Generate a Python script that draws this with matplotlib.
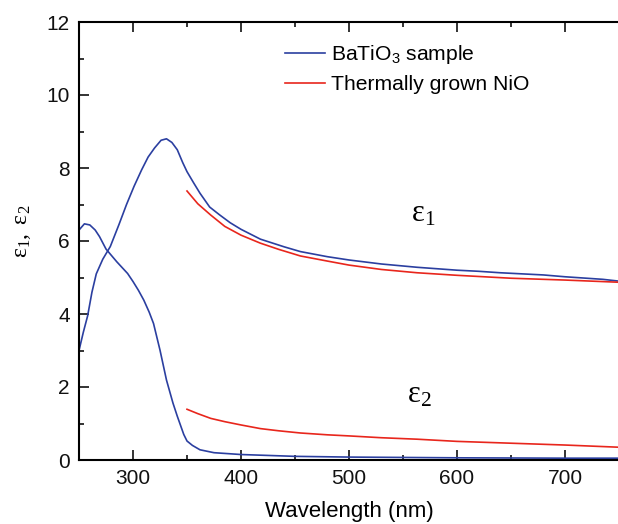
import matplotlib
matplotlib.use("Agg")
import matplotlib.pyplot as plt
from matplotlib.ticker import MultipleLocator

plt.rcParams["font.family"] = ["Liberation Sans", "DejaVu Sans"]
plt.rcParams["mathtext.fontset"] = "custom"
plt.rcParams["mathtext.rm"] = "Liberation Serif"
plt.rcParams["mathtext.it"] = "Liberation Serif:italic"
plt.rcParams["mathtext.sf"] = "Liberation Sans"

# BaTiO3 sample: real part (eps1)
wl_bto_eps1 = [250, 254, 258, 262, 266, 272, 279, 287, 294, 301, 308, 314, 320, 326,
               331, 336, 341, 346, 350, 356, 362, 371, 380, 390, 400, 418, 440, 455,
               480, 500, 530, 563, 600, 620, 640, 660, 680, 700, 720, 735, 750]
bto_eps1 = [3.0, 3.5, 3.95, 4.6, 5.1, 5.5, 5.85, 6.45, 7.0, 7.5, 7.95, 8.3, 8.55, 8.76,
            8.8, 8.7, 8.5, 8.15, 7.9, 7.6, 7.31, 6.93, 6.72, 6.5, 6.32, 6.05, 5.84, 5.71,
            5.57, 5.48, 5.37, 5.28, 5.20, 5.17, 5.13, 5.10, 5.07, 5.02, 4.98, 4.95, 4.90]

# BaTiO3 sample: imaginary part (eps2)
wl_bto_eps2 = [250, 255, 260, 265, 269, 275, 285, 295, 300, 305, 310, 315, 319, 325,
               331, 337, 341, 344, 347, 350, 355, 362, 375, 400, 450, 500, 600, 700, 750]
bto_eps2 = [6.3, 6.47, 6.44, 6.3, 6.12, 5.78, 5.43, 5.11, 4.89, 4.65, 4.38, 4.05, 3.74, 3.01,
            2.19, 1.56, 1.2, 0.95, 0.7, 0.52, 0.4, 0.28, 0.2, 0.15, 0.1, 0.08, 0.06, 0.05, 0.05]

# Thermally grown NiO: eps1 and eps2
wl_nio = [350, 360, 372, 385, 400, 418, 435, 455, 480, 500, 530, 563, 600, 650, 700, 750]
nio_eps1 = [7.37, 7.02, 6.71, 6.40, 6.16, 5.94, 5.77, 5.59, 5.45, 5.34, 5.22, 5.13, 5.06,
            4.98, 4.93, 4.87]
nio_eps2 = [1.39, 1.27, 1.14, 1.05, 0.96, 0.86, 0.80, 0.74, 0.69, 0.66, 0.61, 0.57, 0.51,
            0.46, 0.41, 0.35]

blue = "#2b3fa0"
red = "#e8261c"

fig = plt.figure(figsize=(6.18, 5.24), dpi=100)
ax = fig.add_axes([79 / 618, 64 / 524, 540 / 618, 438 / 524])

ax.plot(wl_bto_eps1, bto_eps1, color=blue, lw=1.2, label="BaTiO$_\\mathsf{3}$ sample")
ax.plot(wl_bto_eps2, bto_eps2, color=blue, lw=1.2)
ax.plot(wl_nio, nio_eps1, color=red, lw=1.2, label="Thermally grown NiO")
ax.plot(wl_nio, nio_eps2, color=red, lw=1.2)

ax.set_xlim(250, 750)
ax.set_ylim(0, 12)
ax.xaxis.set_major_locator(MultipleLocator(100))
ax.xaxis.set_minor_locator(MultipleLocator(50))
ax.yaxis.set_major_locator(MultipleLocator(2))
ax.yaxis.set_minor_locator(MultipleLocator(1))

for s in ("left", "bottom", "top"):
    ax.spines[s].set_linewidth(1.5)
ax.spines["right"].set_visible(False)

ax.tick_params(which="both", direction="in", top=True, right=False, width=1.2,
               labelsize=15, colors="#111111")
ax.tick_params(which="major", length=7.5, pad=6.5)
ax.tick_params(which="minor", length=3.8)

ax.set_xlabel("Wavelength (nm)", fontsize=16, labelpad=9)
ax.set_ylabel(r"$\mathrm{ε}_{1}\mathrm{,\ ε}_{2}$", fontsize=17)
ax.yaxis.set_label_coords((33 - 79) / 540, (460 - 231) / 438)

ax.text(557, 6.53, r"$\mathrm{ε}_{1}$", fontsize=22)
ax.text(554, 1.58, r"$\mathrm{ε}_{2}$", fontsize=22)

ax.legend(loc="upper left", bbox_to_anchor=(0.355, 0.985), frameon=False, fontsize=15.2,
          handlelength=1.85, handletextpad=0.3, labelspacing=0.42, borderaxespad=0.3)

fig.savefig("out.png", dpi=100)
